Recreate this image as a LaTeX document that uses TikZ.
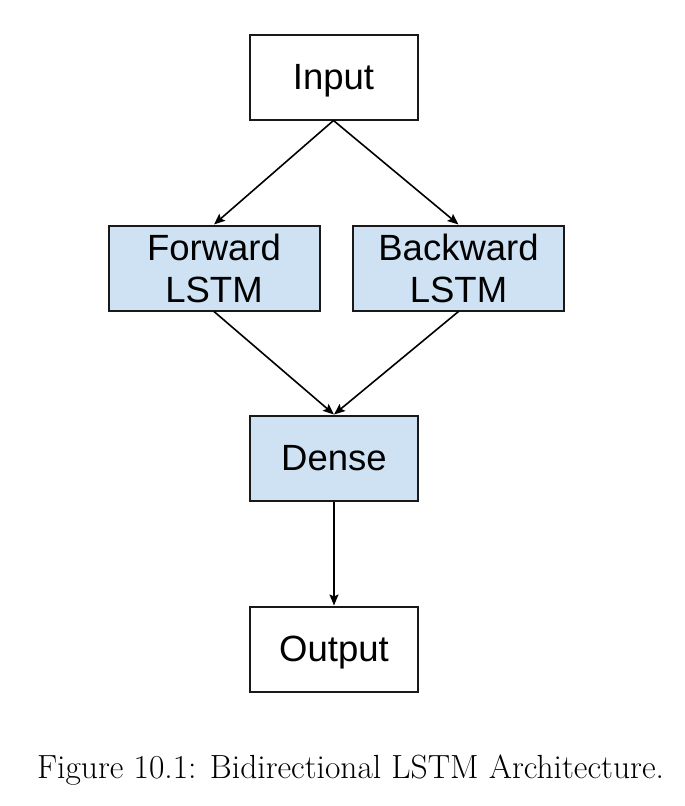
\documentclass[tikz,border=0pt]{standalone}
\usepackage{fontspec}
\newfontfamily\boxfont{Liberation Sans}
\usetikzlibrary{arrows.meta}

\begin{document}
\begin{tikzpicture}[x=1pt,y=-1pt,->,>={Stealth[length=11pt,width=9pt,inset=2pt]},line width=1.6pt,
  layer/.style={draw=black!90,line width=2pt,rectangle,minimum width=168pt,minimum height=85pt,inner sep=0pt,text depth=0pt,align=center,font=\boxfont\fontsize{36.5}{42}\selectfont},
  lstm/.style={layer,fill=lstmblue,minimum width=211pt}]
\definecolor{lstmblue}{HTML}{CFE2F3}
\useasboundingbox (0,0) rectangle (685,806);
\node[layer] (input) at (333.5,77) {Input};
\node[lstm] (fwd) at (214,268) {Forward\\LSTM};
\node[lstm] (bwd) at (458.5,268) {Backward\\LSTM};
\node[layer,fill=lstmblue] (dense) at (334,458) {Dense};
\node[layer] (output) at (334,649) {Output};

\draw (input.south) -- (fwd.north);
\draw (input.south) -- (bwd.north);
\draw (fwd.south) -- (dense.north);
\draw (bwd.south) -- (dense.north);
\draw (dense) -- (output);

\node[font=\fontsize{33.5}{38}\selectfont] (caption) at (350.5,770) {Figure 10.1: Bidirectional LSTM Architecture.};
\end{tikzpicture}
\end{document}
